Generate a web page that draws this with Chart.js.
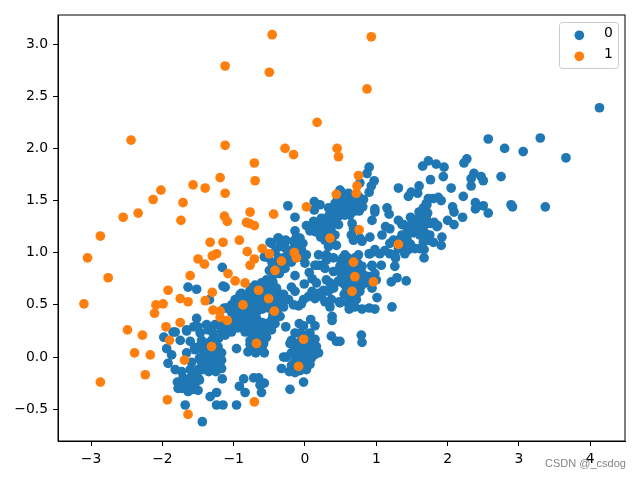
<!DOCTYPE html>
<html>
<head>
<meta charset="utf-8">
<title>Scatter</title>
<script src="https://cdn.jsdelivr.net/npm/chart.js@4"></script>
<style>
    body { margin: 0; background: #fff; }
    canvas { display: block; }
</style>
</head>
<body>
<canvas id="scatterChart" width="640" height="480"></canvas>
<script>
// values, [x, y]
const class0Right = [
    [4.13,2.39],[2.57,2.09],[2.80,2.00],[3.06,1.97],[3.30,2.10],[3.66,1.91],[2.27,1.90],[2.23,1.86],
    [1.73,1.88],[1.65,1.83],[1.84,1.85],[1.95,1.82],[1.76,1.70],[1.94,1.73],[2.37,1.76],[2.33,1.71],
    [2.47,1.73],[2.50,1.69],[2.75,1.73],[2.05,1.62],[2.33,1.64],[1.31,1.62],[1.60,1.64],[1.58,1.57],
    [1.49,1.58],[1.45,1.54],[2.22,1.54],[1.80,1.52],[1.87,1.53],[1.91,1.50],[1.70,1.47],[2.07,1.44],
    [2.09,1.39],[2.39,1.48],[2.39,1.42],[2.50,1.45],[2.57,1.38],[2.21,1.34],[2.89,1.46],[2.91,1.44],
    [3.37,1.44],[1.66,1.43],[1.72,1.38],[1.60,1.39],[1.48,1.34],[1.31,1.31],[2.00,1.31],[2.09,1.27],
    [1.81,1.29],[1.86,1.26],[1.69,1.29],[1.58,1.29],[1.49,1.27],[1.38,1.27],[1.13,1.25],[0.98,1.42],
    [0.98,1.39],[0.94,1.31],[1.15,1.43],[1.18,1.37],[1.19,1.23],[1.08,1.17],[1.36,1.27],[1.43,1.25],
    [1.54,1.31],[1.52,1.25],[1.52,1.19],[1.43,1.19],[1.36,1.17],[1.64,1.38],[1.71,1.46],[1.68,1.39],
    [1.73,1.52],[1.66,1.31],[1.75,1.28],[1.66,1.25],[1.85,1.25],[1.68,1.19],[1.61,1.17],[1.75,1.17],
    [1.73,1.12],[1.80,1.10],[1.92,1.15],[1.91,1.07],[1.43,1.13],[1.24,1.12],[1.19,1.09],[1.38,1.06],
    [1.54,1.04],[1.45,1.03],[1.40,0.99],[1.31,1.04],[1.26,0.98],[1.27,0.95],[1.19,0.99],[1.12,1.02],
    [1.05,0.99],[0.98,1.03],[0.90,0.99],[1.67,1.03],[1.67,0.95],[1.61,1.04],[1.07,0.88],[0.94,0.88],
    [1.26,0.87],[1.60,1.33],[1.57,1.22],[1.70,1.33],[1.48,1.22],[1.66,1.10],[1.33,1.13],[1.48,1.08]
];
const class0Stream = [
    [0.90,1.82],[0.87,1.76],[0.97,1.69],[0.93,1.64],[0.90,1.58],[0.82,1.51],[0.77,1.67],[0.81,1.44],
    [0.74,1.43],[0.67,1.49],[0.59,1.53],[0.49,1.60],[0.59,1.44],[0.49,1.49],[0.63,1.36],[0.66,1.28],
    [0.50,1.59],[0.61,1.57],[0.42,1.47],[0.33,1.43],[0.37,1.39],[0.49,1.43],[0.63,1.46],[0.75,1.49],
    [-0.24,1.45],[-0.14,1.34],[0.13,1.49],[0.13,1.41],[0.21,1.46],[0.55,1.54],[0.68,1.54],[0.75,1.54],
    [0.45,1.50],[0.55,1.50],[0.70,1.50],[0.44,1.40],[0.55,1.40],[0.70,1.40],[0.76,1.40],[0.40,1.36],
    [0.50,1.36],[0.56,1.36]
];
const class0Upper = [
    [0.02,1.26],[0.12,1.30],[0.23,1.33],[0.33,1.35],[0.44,1.33],[0.47,1.27],[0.37,1.25],[0.26,1.25],
    [0.14,1.23],[0.07,1.21],[0.21,1.20],[0.30,1.19],[0.42,1.17],[0.44,1.07],[0.37,1.12],[0.28,1.12],
    [0.33,1.06],[-0.14,1.21],[-0.12,1.15],[-0.05,1.09],[-0.16,1.11],[-0.37,1.14],[-0.47,1.09],[-0.28,1.10],
    [-0.35,1.06],[-0.16,1.03],[-0.05,1.03],[0.02,0.98],[-0.07,0.96],[-0.23,1.01],[-0.42,1.01],[-0.51,0.95],
    [-0.57,0.96],[-0.37,0.95],[-0.23,0.93],[0.19,0.98],[0.30,0.98],[0.40,0.95],[0.56,0.98],[0.51,0.91],
    [0.58,0.91],[0.75,0.98],[0.65,1.17],[0.68,1.12],[0.77,1.14],[0.80,1.11],[0.91,1.15],[0.91,0.99],
    [0.98,1.01],[0.68,1.23],[-0.49,1.10],[-0.38,1.14],[-0.27,1.12],[-0.07,1.14],[-0.14,1.07],[-0.03,1.09],
    [-0.27,1.04],[0.16,0.88],[0.53,0.95],[0.57,0.85],[0.30,1.30],[0.40,1.30],[0.10,1.26],[0.20,1.26],
    [0.15,1.20],[0.37,1.20],[0.22,1.15],[0.34,1.15],[-0.46,0.90],[-0.40,0.87],[-0.30,0.95],[-0.36,0.80],
    [-0.50,0.83]
];
const class0Middle = [
    [0.94,0.87],[1.29,0.76],[1.21,0.72],[1.42,0.73],[0.98,0.80],[0.89,0.77],[1.00,0.74],[0.84,0.71],
    [0.94,0.66],[1.01,0.57],[1.22,0.48],[0.80,0.46],[0.90,0.47],[0.98,0.46],[0.65,0.51],[0.65,0.56],
    [0.72,0.55],[0.77,0.63],[0.80,0.69],[0.72,0.69],[0.63,0.74],[0.58,0.64],[0.61,0.59],[0.49,0.72],
    [0.49,0.52],[0.80,0.87],[0.77,0.82],[0.82,0.79],[0.54,0.91],[0.49,0.87],[0.58,0.83],[0.51,0.80],
    [0.67,0.85],[0.63,0.80],[0.68,0.71],[0.79,0.21],[0.80,0.14],[0.49,0.15],[0.37,0.20],[0.44,0.15],
    [0.38,0.39],[0.38,0.35],[0.48,0.53],[0.14,0.30],[0.08,0.36],[-0.08,0.32],[-0.02,0.30],[-0.27,0.29],
    [-0.19,0.67],[-0.14,0.63],[-0.01,0.70],[-0.14,0.78],[0.06,0.81],[0.10,0.75],[0.16,0.71],[0.30,0.74],
    [0.47,0.73],[0.35,0.71],[0.33,0.63],[0.26,0.64],[0.40,0.66],[0.19,0.61],[0.10,0.63],[0.05,0.58],
    [-0.02,0.55],[-0.09,0.49],[-0.16,0.50],[-0.23,0.55],[0.14,0.56],[0.23,0.58],[0.28,0.53],[0.35,0.48],
    [0.37,0.55],[0.30,0.93],[0.21,0.88],[0.28,0.85],[0.40,0.82],[0.14,0.88],[-0.05,0.51],[0.60,0.95],
    [0.70,0.95],[0.60,0.88],[0.74,0.90],[0.72,0.78],[0.60,0.76],[0.75,0.75],[0.55,0.70],[0.60,0.68],
    [0.70,0.62],[0.72,0.60],[0.55,0.60],[0.68,0.52],[0.60,0.52],[0.62,0.46],[0.70,0.48]
];
const class0Blob = [
    [-0.19,0.91],[-0.28,0.85],[0.00,0.90],[-0.03,0.95],[-0.44,0.79],[-0.54,0.74],[-0.61,0.71],[-0.70,0.69],
    [-0.77,0.64],[-0.89,0.61],[-0.84,0.56],[-0.73,0.59],[-0.63,0.56],[-0.54,0.63],[-0.50,0.68],[-0.37,0.61],
    [-0.42,0.56],[-0.33,0.55],[-0.30,0.48],[-0.35,0.39],[-0.42,0.32],[-0.47,0.26],[-0.54,0.19],[-0.58,0.13],
    [-0.63,0.08],[-0.57,0.04],[-0.69,0.04],[-0.80,0.05],[-0.77,0.16],[-0.84,0.24],[-0.94,0.28],[-1.03,0.24],
    [-1.12,0.21],[-0.96,0.08],[-0.80,0.50],[-0.70,0.50],[-0.61,0.50],[-0.51,0.47],[-0.80,0.42],[-0.68,0.43],
    [-0.68,0.37],[-0.80,0.36],[-0.87,0.39],[-0.96,0.42],[-1.01,0.35],[-0.94,0.32],[-1.03,0.50],[-0.98,0.55],
    [-1.05,0.29],[-0.84,0.31],[-0.73,0.29],[-0.61,0.26],[-0.54,0.32],[-0.47,0.35],[-0.65,0.21],[-0.75,0.23],
    [-0.68,0.16],[-0.61,0.15],[-0.77,0.12],[-1.10,0.47],[-1.12,0.67],[-1.16,0.86],[-1.64,0.67],[-1.52,0.65],
    [-1.15,0.68],[-1.34,0.55],[-0.91,0.60],[-1.13,0.47],[-1.10,0.31],[-1.15,0.24],[-1.03,0.43],[-1.15,0.32],
    [-1.05,0.31],[-1.17,0.26],[-0.55,0.72],[-0.45,0.72],[-0.75,0.66],[-0.65,0.66],[-0.58,0.66],[-0.40,0.66],
    [-0.80,0.60],[-0.66,0.60],[-0.60,0.60],[-0.44,0.60],[-0.30,0.60],[-0.92,0.53],[-0.75,0.53],[-0.66,0.53],
    [-0.56,0.53],[-0.46,0.53],[-0.38,0.53],[-0.96,0.46],[-0.87,0.46],[-0.74,0.46],[-0.60,0.46],[-0.44,0.46],
    [-0.38,0.46],[-0.91,0.40],[-0.74,0.40],[-0.45,0.40],[-0.89,0.33],[-0.75,0.33],[-0.67,0.33],[-0.60,0.33],
    [-0.78,0.27],[-0.70,0.27],[-0.55,0.27],[-0.72,0.20],[-0.60,0.20],[-0.70,0.10],[-0.60,0.10]
];
const class0Bottom = [
    [0.07,0.23],[-0.14,0.23],[-0.19,0.16],[0.16,0.10],[0.19,0.04],[0.09,0.05],[-0.12,0.08],[0.00,0.07],
    [-0.19,0.04],[-0.26,0.00],[-0.12,0.00],[0.00,-0.01],[0.07,-0.07],[0.02,-0.12],[-0.14,-0.15],[-0.22,-0.14],
    [-0.33,-0.11],[-0.19,-0.08],[-0.02,-0.24],[-0.21,-0.31],[-0.12,0.13],[0.14,0.17],[0.02,0.21],[-0.07,0.23],
    [0.09,-0.01],[-0.21,0.13],[-0.30,0.00],[-0.05,0.16],[0.05,0.14],[-0.09,0.04],[0.04,0.03],[0.12,0.09],
    [-0.14,-0.04],[-0.07,-0.05],[0.02,-0.06],[-0.07,-0.13],[-0.13,-0.09],[0.13,0.02],[-0.05,0.10]
];
const class0Left = [
    [-1.52,0.37],[-1.66,0.26],[-1.56,0.29],[-1.85,0.24],[-1.98,0.19],[-1.75,0.16],[-1.94,0.08],[-1.87,0.02],
    [-1.92,-0.06],[-1.82,-0.12],[-1.73,-0.14],[-1.66,0.04],[-1.59,-0.05],[-1.61,-0.12],[-1.50,-0.12],[-1.45,-0.05],
    [-1.54,0.07],[-1.61,0.15],[-1.45,0.16],[-1.47,0.23],[-1.36,0.26],[-1.38,0.31],[-1.50,0.29],[-1.26,0.31],
    [-1.29,0.23],[-1.21,0.18],[-1.26,0.04],[-1.36,0.02],[-1.22,0.10],[-1.17,0.04],[-1.40,-0.05],[-1.31,-0.03],
    [-1.17,-0.03],[-1.19,-0.09],[-1.29,-0.11],[-1.38,-0.09],[-1.16,-0.21],[-1.79,-0.24],[-1.71,-0.20],[-1.61,-0.20],
    [-1.50,-0.20],[-1.73,-0.30],[-1.64,-0.33],[-1.50,-0.32],[-1.59,-0.27],[-1.68,-0.25],[-1.54,-0.25],[-1.24,-0.34],
    [-1.33,-0.38],[-1.24,-0.46],[-1.15,-0.46],[-0.96,-0.46],[-1.68,-0.46],[-1.44,-0.62],[-0.92,-0.28],[-0.86,-0.21],
    [-0.84,-0.34],[-0.72,-0.20],[-0.65,-0.20],[-0.57,-0.25],[-0.63,-0.27],[-0.61,-0.34],[-1.43,0.07],[-1.31,0.16],
    [-1.82,0.24],[-1.66,0.25],[-1.55,0.09],[-1.41,0.06],[-1.48,-0.01],[-1.17,-0.11],[-1.57,-0.14],[-1.48,-0.22],
    [-1.59,-0.24],[-1.42,0.02],[-1.33,-0.06],[-1.24,-0.07],[-1.24,-0.01],[-1.44,-0.12],[-1.35,-0.14],[-1.25,-0.14],
    [-1.38,0.13],[-1.47,0.11],[-1.22,0.02],[-1.66,-0.29],[-1.57,-0.31],[-1.78,-0.30]
];
const class1 = [
    [-0.46,3.09],[-1.12,2.79],[-0.50,2.73],[0.17,2.25],[-2.44,2.08],[-1.12,2.03],[-0.28,2.00],[-0.16,1.94],
    [0.45,2.00],[0.47,1.92],[-0.71,1.86],[-1.19,1.72],[-0.70,1.69],[-1.57,1.65],[-1.40,1.62],[-2.02,1.60],
    [-2.13,1.51],[-1.12,1.57],[-1.71,1.48],[0.44,1.56],[0.02,1.44],[-2.34,1.38],[-2.55,1.34],[-1.74,1.31],
    [-0.77,1.39],[-0.44,1.37],[-1.13,1.35],[-1.09,1.30],[-0.82,1.29],[-0.78,1.28],[-0.71,1.26],[-2.87,1.16],
    [-3.05,0.95],[-2.76,0.76],[-3.10,0.51],[-1.33,1.10],[-1.15,1.10],[-0.92,1.12],[-0.81,1.01],[-0.60,1.04],
    [-0.50,0.99],[-0.71,0.94],[-0.77,0.88],[-0.33,0.92],[-0.15,1.00],[-0.12,0.95],[0.35,1.14],[-0.42,0.83],
    [-1.24,0.99],[-1.30,0.97],[-1.50,0.94],[-1.41,0.89],[-1.08,0.80],[-1.61,0.78],[-0.98,0.73],[-0.84,0.71],
    [-0.65,0.64],[-0.51,0.56],[-1.92,0.64],[-1.30,0.62],[-1.75,0.56],[-1.64,0.53],[-1.40,0.54],[-0.87,0.50],
    [-2.09,0.50],[-1.99,0.51],[-2.11,0.42],[-0.43,0.44],[-1.29,0.45],[-1.19,0.44],[-1.19,0.38],[-1.09,0.35],
    [-1.75,0.33],[-1.95,0.29],[-2.49,0.26],[-2.28,0.21],[-1.90,0.16],[-0.68,0.13],[-0.02,0.17],[-1.31,0.10],
    [-2.39,0.04],[-2.17,0.02],[-1.69,-0.03],[-0.09,-0.09],[-2.24,-0.17],[-2.87,-0.24],[-1.93,-0.41],[-0.71,-0.43],
    [-1.64,-0.55],[0.93,3.07],[0.87,2.57],[0.75,1.74],[0.73,1.64],[0.72,1.57],[0.76,1.22],[1.31,1.08],
    [0.68,0.91],[0.70,0.77],[0.96,0.72],[0.66,0.63]
];
const class0 = [].concat(class0Right, class0Stream, class0Upper, class0Middle, class0Blob, class0Bottom, class0Left);

const seriesNames = ['0', '1'];
const seriesColors = ['#1f77b4', '#ff7f0e'];
const xTicks = [-3, -2, -1, 0, 1, 2, 3, 4];
const yTicks = [-0.5, 0, 0.5, 1, 1.5, 2, 2.5, 3];
const xRange = [-3.464, 4.488];
const yRange = [-0.805, 3.279];

const toPoints = rows => rows.map(r => ({ x: r[0], y: r[1] }));
const minusSign = s => String(s).replace('-', '\u2212');
const tickFont = { family: '"DejaVu Sans"', size: 13.9 };

// top and right spines, matplotlib style legend and the watermark
const framePlugin = {
    id: 'frame',
    afterDraw(chart) {
        const ctx = chart.ctx;
        const area = chart.chartArea;
        ctx.save();
        ctx.strokeStyle = '#000';
        ctx.lineWidth = 1;
        ctx.strokeRect(area.left, area.top, area.right - area.left, area.bottom - area.top);

        ctx.beginPath();
        ctx.roundRect(559.5, 22.5, 59, 46, 3);
        ctx.fillStyle = 'rgba(255,255,255,0.8)';
        ctx.fill();
        ctx.strokeStyle = '#ccc';
        ctx.lineWidth = 1;
        ctx.stroke();

        ctx.font = '13.9px "DejaVu Sans"';
        ctx.textBaseline = 'middle';
        seriesNames.forEach((name, i) => {
            ctx.beginPath();
            ctx.arc(579.3, 35.3 + i * 21, 4.85, 0, Math.PI * 2);
            ctx.fillStyle = seriesColors[i];
            ctx.fill();
            ctx.fillStyle = '#000';
            ctx.fillText(name, 604, 33.5 + i * 21);
        });

        ctx.font = '11px "Liberation Sans"';
        ctx.fillStyle = 'rgba(90,90,90,0.75)';
        ctx.fillText('CSDN @_csdog', 545, 464);
        ctx.restore();
    }
};

new Chart(document.getElementById('scatterChart').getContext('2d'), {
    type: 'scatter',
    data: {
        datasets: [
            { label: seriesNames[0], data: toPoints(class0), backgroundColor: seriesColors[0], order: 2 },
            { label: seriesNames[1], data: toPoints(class1), backgroundColor: seriesColors[1], order: 1 }
        ]
    },
    options: {
        responsive: false,
        animation: false,
        layout: { padding: { top: 15, right: 15, left: 0, bottom: 0 } },
        elements: { point: { radius: 4.85, borderWidth: 0 } },
        plugins: { legend: { display: false }, tooltip: { enabled: false } },
        scales: {
            x: {
                type: 'linear',
                min: xRange[0],
                max: xRange[1],
                afterBuildTicks: axis => { axis.ticks = xTicks.map(v => ({ value: v })); },
                afterFit: axis => { axis.height = 39; },
                grid: { drawOnChartArea: false, color: '#000', tickLength: 5 },
                border: { color: '#000', width: 1 },
                ticks: {
                    color: '#000',
                    font: tickFont,
                    padding: 5,
                    maxRotation: 0,
                    callback: v => minusSign(v)
                }
            },
            y: {
                type: 'linear',
                min: yRange[0],
                max: yRange[1],
                afterBuildTicks: axis => { axis.ticks = yTicks.map(v => ({ value: v })); },
                afterFit: axis => { axis.width = 58; },
                grid: { drawOnChartArea: false, color: '#000', tickLength: 5 },
                border: { color: '#000', width: 1 },
                ticks: {
                    color: '#000',
                    font: tickFont,
                    padding: 5,
                    callback: v => minusSign(Number(v).toFixed(1))
                }
            }
        }
    },
    plugins: [framePlugin]
});
</script>
</body>
</html>
